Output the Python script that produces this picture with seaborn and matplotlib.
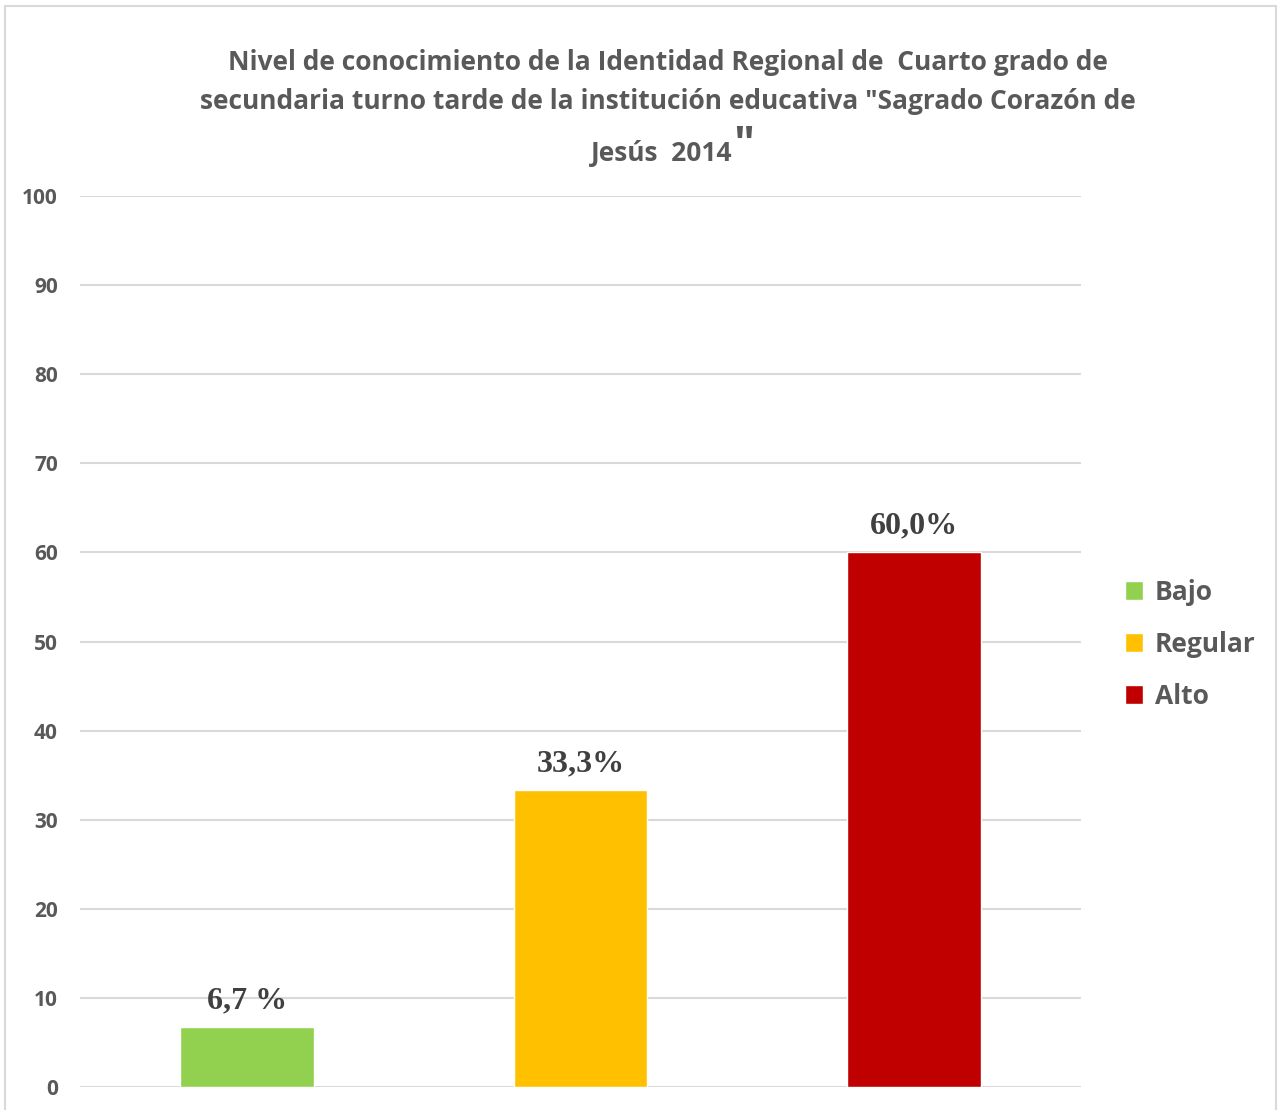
import matplotlib
matplotlib.use("Agg")
import matplotlib.pyplot as plt
import seaborn as sns
import pandas as pd
from matplotlib.patches import Rectangle

# Datos del gráfico
niveles = ["Bajo", "Regular", "Alto"]
porcentajes = [6.7, 33.3, 60.0]
etiquetas = ["6,7 %", "33,3%", "60,0%"]
colores = ["#92D050", "#FFC000", "#C00000"]
marcas_y = list(range(0, 101, 10))

df = pd.DataFrame({"nivel": niveles, "porcentaje": porcentajes})

sns.set_style("white")
plt.rcParams["font.family"] = ["Open Sans", "DejaVu Sans"]

gris = "#595959"
fig = plt.figure(figsize=(12.8, 11.1), dpi=100)
ax = fig.add_axes([0.0625, 0.0207, 0.782, 0.8027])

sns.barplot(data=df, x="nivel", y="porcentaje", hue="nivel", palette=colores,
            width=0.4, dodge=False, legend=True, ax=ax, saturation=1)

ax.set_ylim(0, 100)
ax.set_xlim(-0.5, 2.5)
ax.set_yticks(marcas_y)
ax.set_yticklabels([str(m) for m in marcas_y], fontsize=15, fontweight="bold", color=gris)
ax.set_xticks([])
ax.set_xlabel("")
ax.set_ylabel("")
ax.tick_params(axis="y", length=0, pad=16)
ax.grid(axis="y", color="#D9D9D9", linewidth=1.5)
ax.set_axisbelow(True)
for s in ax.spines.values():
    s.set_visible(False)

# Etiquetas de valores
for i, (v, t) in enumerate(zip(porcentajes, etiquetas)):
    ax.text(i, v + 1.3, t, ha="center", va="bottom", fontsize=23, fontweight="bold",
            family="Liberation Serif", color="#404040")

# Leyenda
handles, labels = ax.get_legend_handles_labels()
ax.legend(handles, labels, loc="center left", bbox_to_anchor=(1.02, 0.497), frameon=False,
          prop={"family": "Open Sans", "weight": "bold", "size": 19}, labelcolor=gris,
          handlelength=0.7, handleheight=0.7, handletextpad=0.45, labelspacing=0.95)

# Título
fig.text(0.522, 0.944, "Nivel de conocimiento de la Identidad Regional de  Cuarto grado de",
         ha="center", va="center", fontsize=19, fontweight="bold", color=gris)
fig.text(0.522, 0.909, 'secundaria turno tarde de la institución educativa "Sagrado Corazón de',
         ha="center", va="center", fontsize=19, fontweight="bold", color=gris)
fig.text(0.5725, 0.862, "Jesús  2014", ha="right", va="center", fontsize=19,
         fontweight="bold", color=gris)
fig.text(0.5725, 0.868, '"', ha="left", va="center", fontsize=32,
         fontweight="bold", color=gris)

# Borde del gráfico
fig.patches.append(Rectangle((0.004, -0.01), 0.993, 1.005, transform=fig.transFigure,
                             fill=False, edgecolor="#D9D9D9", linewidth=1.5))

fig.savefig("out.png", dpi=100)
plt.close(fig)
